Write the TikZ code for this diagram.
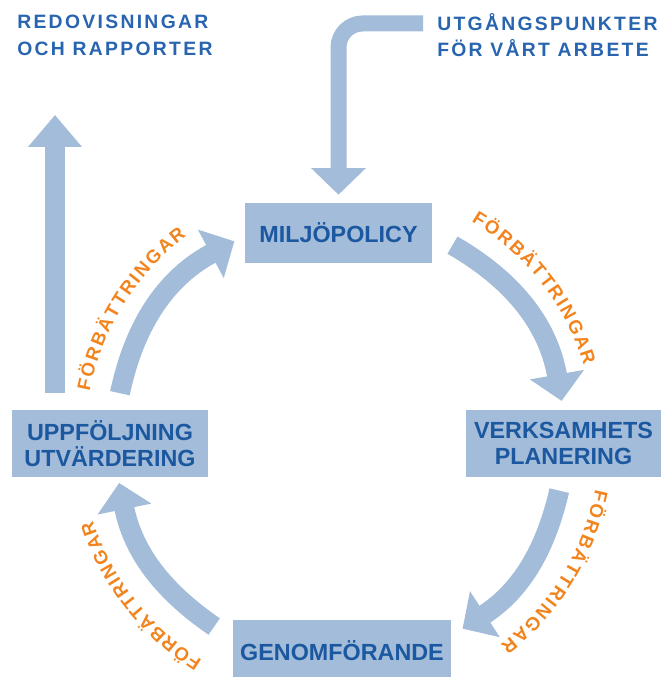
\documentclass[tikz,border=0pt]{standalone}
\usepackage{fontspec}
\setmainfont{Liberation Sans}
\usepackage{tikz}
\usetikzlibrary{arrows.meta}
\usetikzlibrary{decorations.text}
\usepackage{xcolor}
\definecolor{boxblue}{RGB}{163,188,217}
\definecolor{textblue}{RGB}{28,88,160}
\definecolor{headblue}{RGB}{40,100,175}
\definecolor{fborange}{RGB}{242,132,30}

\tikzset{
  stage/.style={fill=boxblue, text=textblue, align=center, inner sep=0pt,
    font=\fontsize{17.5}{19.5}\selectfont\bfseries},
  flow/.style={draw=boxblue, line width=15pt, -{Triangle[length=20pt,width=40pt]}},
  feed/.style={draw=boxblue, line width=12pt, rounded corners=18pt, -{Triangle[length=20pt,width=40pt]}},
  heading/.style={text=headblue, align=left, inner sep=0pt,
    font=\fontsize{14.5}{20}\selectfont\bfseries\addfontfeature{LetterSpace=12}},
  improve/.style={decorate, decoration={text along path, text align={fit to path}, text color=fborange,
    text={|\fontsize{14}{14}\selectfont\bfseries|FÖRBÄTTRINGAR}}}
}

\begin{document}
\begin{tikzpicture}[x=0.75pt, y=0.75pt]
    \useasboundingbox (0,0) rectangle (671,677);
    % rutorna
    \node[stage, minimum width=140pt, minimum height=45pt] (pol) at (338.5,444) {MILJÖPOLICY};
    \node[stage, minimum width=146pt, minimum height=50pt] (ver) at (563.5,233.5) {VERKSAMHETS\\PLANERING};
    \node[stage, minimum width=147pt, minimum height=50pt] (upp) at (110,233.5) {UPPFÖLJNING\\UTVÄRDERING};
    \node[stage, minimum width=163.5pt, minimum height=46pt] (gen) at (342,26) {GENOMFÖRANDE};
    % rubriker
    \node[heading, anchor=north west] (red) at (17,662) {REDOVISNINGAR\\OCH RAPPORTER};
    \node[heading, anchor=north west] (utg) at (437,664) {UTGÅNGSPUNKTER\\FÖR VÅRT ARBETE};
    % in och ut
    \coordinate (src) at (423,653.5);
    \draw[feed, shorten >=6pt] (src) -| (pol.north);
    \coordinate (upbot) at (55,284);
    \coordinate (uptop) at (55,562);
    \draw[flow, -{Triangle[length=24pt,width=39pt]}] (upbot) -- (uptop);
    % cirkeln
    \coordinate (c) at (340,237);
    \coordinate (a1s) at ([shift={(168:225)}]c);
    \coordinate (a1e) at ([shift={(118:225)}]c);
    \coordinate (a2s) at ([shift={(60:225)}]c);
    \coordinate (a2e) at ([shift={(10:225)}]c);
    \coordinate (a3s) at ([shift={(-13:225)}]c);
    \coordinate (a3e) at ([shift={(-57:225)}]c);
    \coordinate (a4s) at ([shift={(-124:225)}]c);
    \coordinate (a4e) at ([shift={(-169:225)}]c);
    \draw[flow] (a1s) to[bend left=25] (a1e);
    \draw[flow] (a2s) to[bend left=25] (a2e);
    \draw[flow] (a3s) to[bend left=22] (a3e);
    \draw[flow] (a4s) to[bend left=22] (a4e);
    % förbättringar
    \path[improve] ([shift={(169:255)}]c) arc[start angle=169, end angle=127, radius=255];
    \path[improve] ([shift={(59:255)}]c) arc[start angle=59, end angle=17, radius=255];
    \path[improve] ([shift={(-11:260)}]c) arc[start angle=-11, end angle=-52, radius=260];
    \path[improve] ([shift={(-122:260)}]c) arc[start angle=-122, end angle=-162, radius=260];
\end{tikzpicture}
\end{document}
